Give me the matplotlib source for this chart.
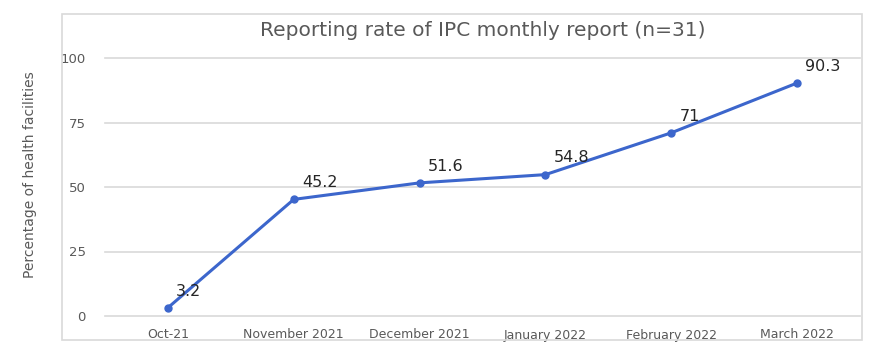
import matplotlib
matplotlib.use("Agg")
import matplotlib.pyplot as plt
from matplotlib.patches import Rectangle

months = ["Oct-21", "November 2021", "December 2021", "January 2022",
          "February 2022", "March 2022"]
rates = [3.2, 45.2, 51.6, 54.8, 71, 90.3]
rate_labels = ["3.2", "45.2", "51.6", "54.8", "71", "90.3"]
yticks = [0, 25, 50, 75, 100]

GREY = "#595959"
GRID = "#d9d9d9"
BLUE = "#3C66CC"

fig = plt.figure(figsize=(8.82, 3.61), dpi=100, facecolor="white")

# outer chart border
fig.patches.append(Rectangle((62 / 882, 1 - 340 / 361), 800 / 882, 326 / 361,
                             transform=fig.transFigure, fill=False,
                             edgecolor=GRID, linewidth=1.2))

ax = fig.add_axes([105 / 882, 1 - 316 / 361, 755 / 882, 258 / 361])
x = list(range(len(months)))
ax.plot(x, rates, color=BLUE, linewidth=2.2, marker="o", markersize=5,
        clip_on=False, zorder=3)
for xi, v, lab in zip(x, rates, rate_labels):
    ax.annotate(lab, (xi, v), xytext=(6, 12), textcoords="offset points",
                ha="left", va="center", fontsize=11.5, color="#262626")

ax.set_xlim(-0.5, len(months) - 0.5)
ax.set_ylim(0, 100)
ax.set_yticks(yticks)
ax.set_xticks(x)
ax.set_xticklabels(months)
ax.tick_params(axis="both", length=0, colors=GREY, labelsize=9)
ax.tick_params(axis="y", pad=14, labelsize=9.5)
ax.tick_params(axis="x", pad=9)
ax.grid(axis="y", color=GRID, linewidth=1.2)
for gl in ax.get_ygridlines():
    gl.set_clip_on(False)
ax.set_axisbelow(True)
for s in ax.spines.values():
    s.set_visible(False)

fig.text(483 / 882, 1 - 30 / 361, "Reporting rate of IPC monthly report (n=31)",
         ha="center", va="center", fontsize=14.5, color=GREY)
fig.text(30 / 882, 1 - 175 / 361, "Percentage of health facilities",
         rotation=90, ha="center", va="center", fontsize=10, color=GREY)

plt.savefig("out.png", dpi=100, facecolor="white")
